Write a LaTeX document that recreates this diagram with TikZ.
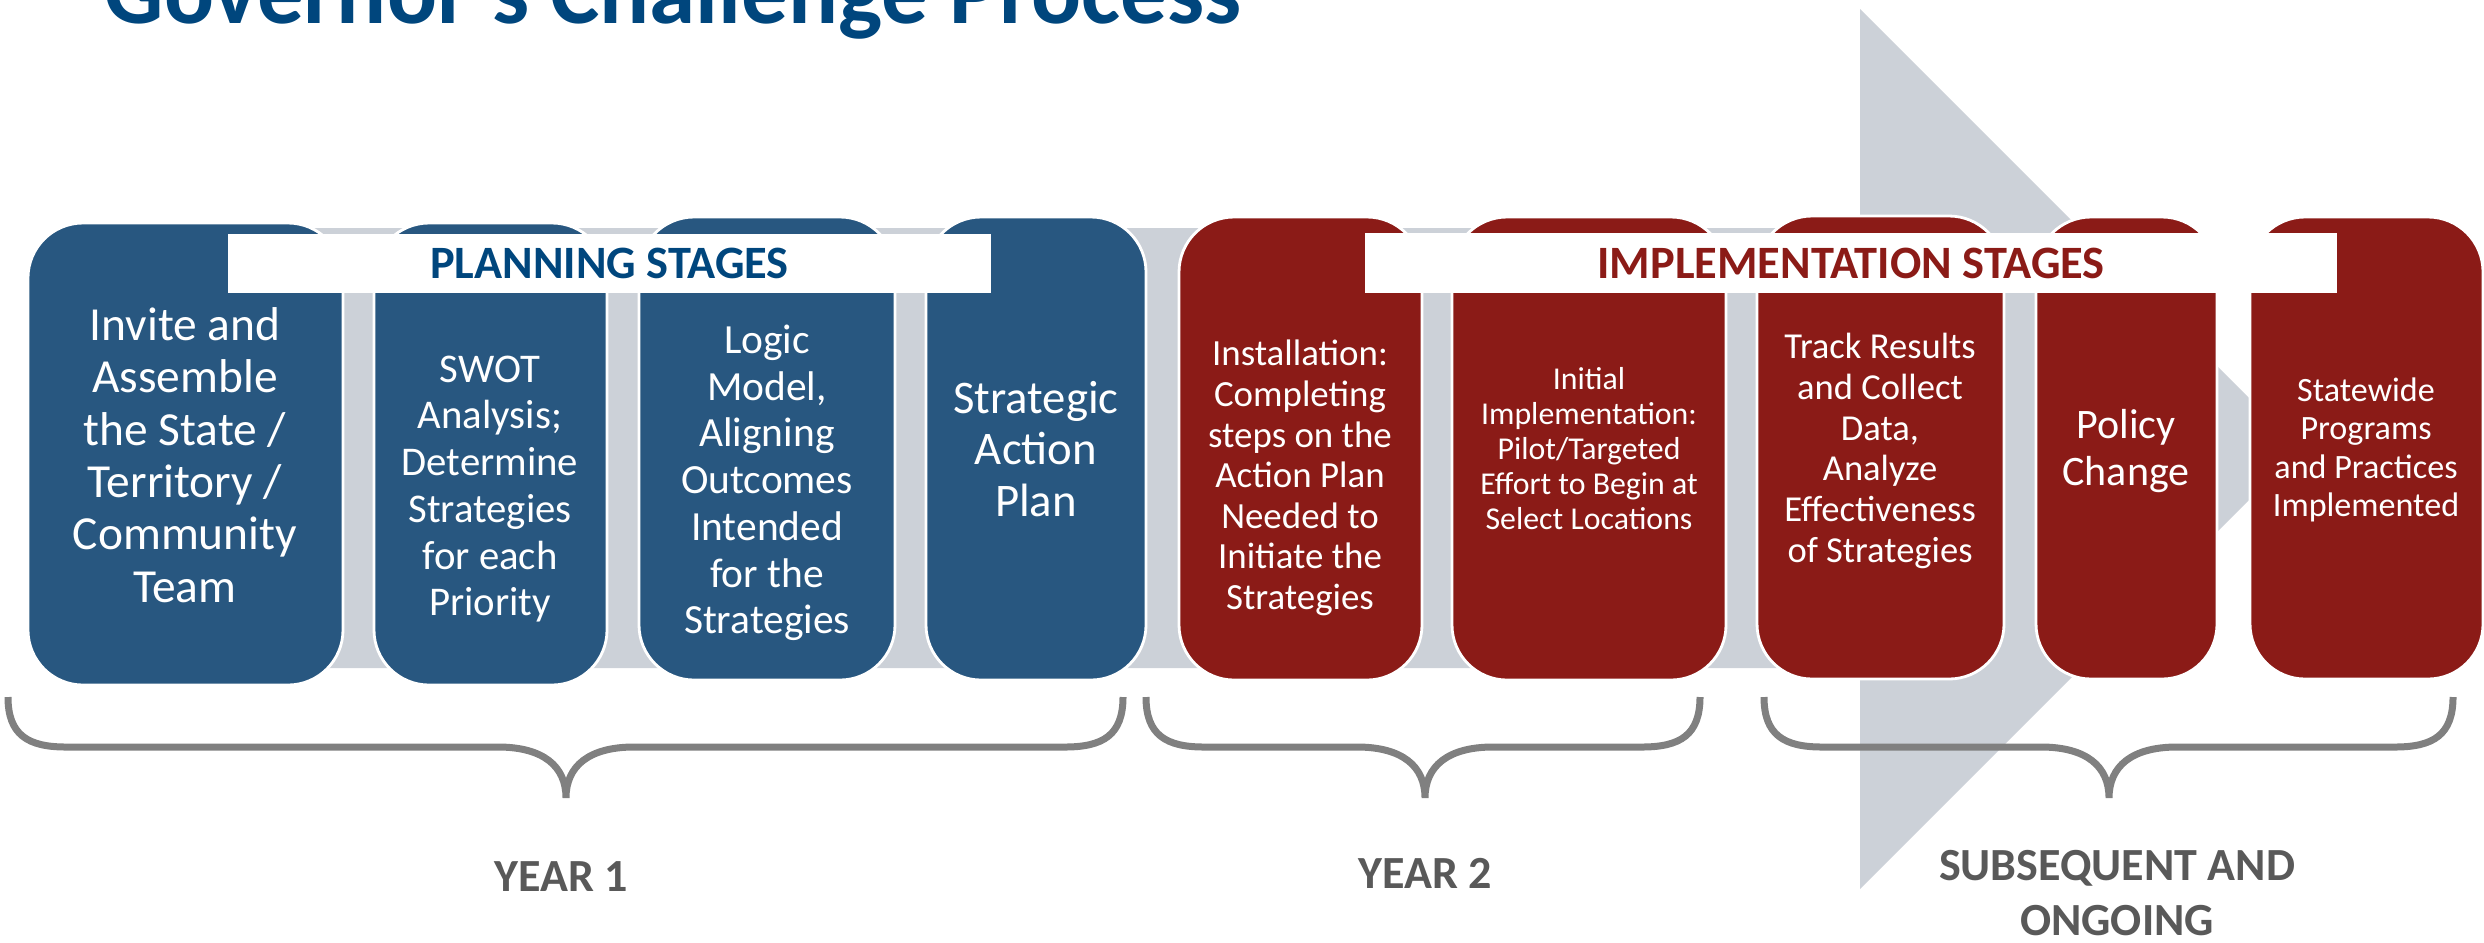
\documentclass[tikz,border=0pt]{standalone}
\usepackage{fontspec}
\setmainfont{Carlito}
\usetikzlibrary{fit}
\definecolor{planblue}{RGB}{40,87,128}
\definecolor{implred}{RGB}{139,27,23}
\definecolor{bandgray}{RGB}{204,209,216}
\definecolor{titleblue}{RGB}{0,70,125}
\definecolor{bracegray}{RGB}{128,128,128}
\definecolor{yeargray}{RGB}{89,89,89}

\begin{document}
\begin{tikzpicture}[x=0.1mm, y=-0.1mm,
    stagebox/.style={rectangle, rounded corners=5.5mm, draw=white, line width=0.8pt, inner sep=0pt, fill=#1},
    stagetext/.style={text=white, align=center, inner sep=0pt},
    banner/.style={rectangle, fill=white, inner sep=0pt},
    bannertext/.style={inner sep=0pt, font=\fontsize{13.2}{15}\selectfont\bfseries},
    yearbrace/.style={draw=bracegray, line width=0.7mm},
    yearlabel/.style={text=yeargray, align=center, inner sep=0pt, font=\fontsize{13.1}{15.6}\selectfont\bfseries}]
    \useasboundingbox (0,0) rectangle (2484,942);

    \node[anchor=base west, inner sep=0pt, text=titleblue, font=\fontsize{26.5}{30}\selectfont\bfseries] (title) at (104,23) {Governor's Challenge Process};

    % grey arrow behind the stages
    \fill[bandgray] (60,228) -- (1860,228) -- (1860,9) -- (2300,449) -- (1860,889) -- (1860,668) -- (60,668) -- cycle;

    % planning stages
    \node[stagebox=planblue, fit={(28,223) (343,685)}] (invite) {};
    \node[stagebox=planblue, fit={(374,223) (607,685)}] (swot) {};
    \node[stagebox=planblue, fit={(639,217) (895,680)}] (logic) {};
    \node[stagebox=planblue, fit={(926,217) (1146,680)}] (plan) {};
    \node[stagetext, font=\fontsize{13.5}{14.9}\selectfont] (invite text) at (185,455) {Invite and\\Assemble\\the State /\\Territory /\\Community\\Team};
    \node[stagetext, font=\fontsize{11.6}{13.3}\selectfont] (swot text) at (490,489) {SWOT\\Analysis;\\Determine\\Strategies\\for each\\Priority};
    \node[stagetext, font=\fontsize{11.8}{13.3}\selectfont] (logic text) at (767,483) {Logic\\Model,\\Aligning\\Outcomes\\Intended\\for the\\Strategies};
    \node[stagetext, font=\fontsize{13.3}{14.7}\selectfont] (plan text) at (1036,449) {Strategic\\Action\\Plan};

    % implementation stages
    \node[stagebox=implred, fit={(1179,217) (1422,680)}] (install) {};
    \node[stagebox=implred, fit={(1452,217) (1726,680)}] (initial) {};
    \node[stagebox=implred, fit={(1757,216) (2004,679)}] (track) {};
    \node[stagebox=implred, fit={(2036,217) (2217,679)}] (policy) {};
    \node[stagebox=implred, fit={(2250,217) (2483,679)}] (statewide) {};
    \node[stagetext, font=\fontsize{10.5}{11.55}\selectfont] (install text) at (1300,478) {Installation:\\Completing\\steps on the\\Action Plan\\Needed to\\Initiate the\\Strategies};
    \node[stagetext, font=\fontsize{9.05}{9.96}\selectfont] (initial text) at (1589,449) {Initial\\Implementation:\\Pilot/Targeted\\Effort to Begin at\\Select Locations};
    \node[stagetext, font=\fontsize{10.4}{11.6}\selectfont] (track text) at (1880,451) {Track Results\\and Collect\\Data,\\Analyze\\Effectiveness\\of Strategies};
    \node[stagetext, font=\fontsize{11.95}{13.2}\selectfont] (policy text) at (2126,451) {Policy\\Change};
    \node[stagetext, font=\fontsize{9.7}{10.95}\selectfont] (statewide text) at (2366,450) {Statewide\\Programs\\and Practices\\Implemented};

    \node[banner, fit={(228,234) (991,293)}] (planning) {};
    \node[bannertext, text=titleblue] (planning text) at (planning.center) {PLANNING STAGES};
    \node[banner, fit={(1365,233) (2337,293)}] (implementation) {};
    \node[bannertext, text=implred] (implementation text) at (implementation.center) {IMPLEMENTATION STAGES};

    % braces
    \draw[yearbrace] (8,697) .. controls +(0,38) and +(-38,0) .. (66,747) -- (498,747)
        .. controls +(45,0) and +(0,-32) .. (566,798) .. controls +(0,-32) and +(-45,0) .. (634,747)
        -- (1065,747) .. controls +(38,0) and +(0,38) .. (1123,697);
    \draw[yearbrace] (1146,697) .. controls +(0,38) and +(-38,0) .. (1204,747) -- (1357,747)
        .. controls +(45,0) and +(0,-32) .. (1425,798) .. controls +(0,-32) and +(-45,0) .. (1493,747)
        -- (1642,747) .. controls +(38,0) and +(0,38) .. (1700,697);
    \draw[yearbrace] (1764,697) .. controls +(0,38) and +(-38,0) .. (1822,747) -- (2041,747)
        .. controls +(45,0) and +(0,-32) .. (2109,798) .. controls +(0,-32) and +(-45,0) .. (2177,747)
        -- (2395,747) .. controls +(38,0) and +(0,38) .. (2453,697);

    \node[yearlabel, anchor=base] (year one) at (561,891) {YEAR 1};
    \node[yearlabel, anchor=base] (year two) at (1425,888) {YEAR 2};
    \node[yearlabel, anchor=north] (ongoing) at (2117,850) {SUBSEQUENT AND\\ONGOING};
\end{tikzpicture}
\end{document}
